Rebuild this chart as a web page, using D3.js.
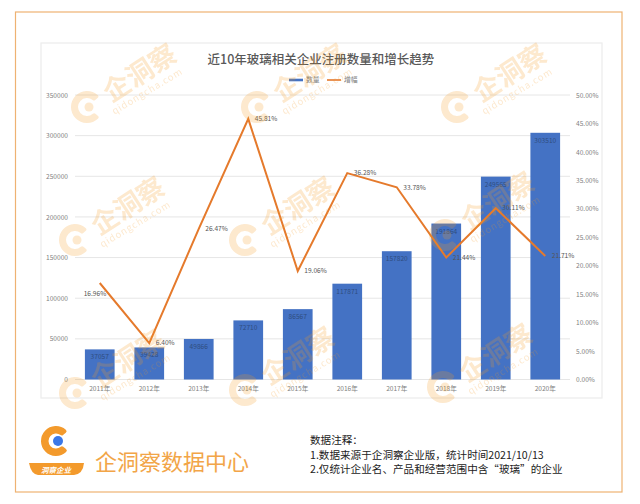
<!DOCTYPE html>
<html><head><meta charset="utf-8">
<script src="https://cdnjs.cloudflare.com/ajax/libs/d3/7.8.5/d3.min.js"></script>
<style>html,body{margin:0;padding:0;background:#fff}svg{display:block}text{font-family:"Noto Sans CJK SC","Noto Sans",sans-serif}</style>
</head><body><div id="c"></div>
<script>
const years=["2011年","2012年","2013年","2014年","2015年","2016年","2017年","2018年","2019年","2020年"];
const counts=[37057,39428,49866,72710,86567,117871,157820,191864,249565,303510];
const growth=[16.96,6.40,26.47,45.81,19.06,36.28,33.78,21.44,30.11,21.71];
const leftTicks=[0,50000,100000,150000,200000,250000,300000,350000];
const rightTicks=[0,5,10,15,20,25,30,35,40,45,50];
const title="近10年玻璃相关企业注册数量和增长趋势";
const seriesNames=["数量","增幅"];
const notes=["数据注释：","1.数据来源于企洞察企业版，统计时间2021/10/13","2.仅统计企业名、产品和经营范围中含“玻璃”的企业"];
const brand="企洞察数据中心";

const W=640,H=504;
const svg=d3.select("#c").append("svg").attr("width",W).attr("height",H);
svg.append("rect").attr("x",15.5).attr("y",12).attr("width",606.5).attr("height",480).attr("fill","#fff").attr("stroke","#eeb272").attr("stroke-width",1.2);
svg.append("rect").attr("x",41).attr("y",43).attr("width",561).attr("height",355).attr("fill","#fff").attr("stroke","#ececec").attr("stroke-width",1.2);

const x=d3.scaleBand().domain(years).range([75,570]).paddingInner(0.4).paddingOuter(0.2);
const yL=d3.scaleLinear().domain([0,350000]).range([379.5,95]);
const yR=d3.scaleLinear().domain([0,50]).range([379.5,95]);
const cx=d=>x(d)+x.bandwidth()/2;

const g=svg.append("g");
g.selectAll(".grid").data(leftTicks).join("line").attr("x1",75).attr("x2",570).attr("y1",d=>yL(d)).attr("y2",d=>yL(d)).attr("stroke","#e6e6e6").attr("stroke-width",1);
g.selectAll(".bar").data(years).join("rect").attr("x",d=>x(d)).attr("width",x.bandwidth()).attr("y",(d,i)=>yL(counts[i])).attr("height",(d,i)=>yL(0)-yL(counts[i])).attr("fill","#4472c4");

const axL=d3.axisLeft(yL).tickValues(leftTicks).tickSize(0).tickPadding(0).tickFormat(d3.format("d"));
const aL=svg.append("g").attr("transform","translate(68,0)").call(axL);
const axR=d3.axisRight(yR).tickValues(rightTicks).tickSize(0).tickPadding(0).tickFormat(d=>d.toFixed(2)+"%");
const aR=svg.append("g").attr("transform","translate(576,0)").call(axR);
const axB=d3.axisBottom(x).tickSize(0).tickPadding(0);
const aB=svg.append("g").attr("transform","translate(0,386.5)").call(axB);
[aL,aR,aB].forEach(a=>{a.select(".domain").remove();a.selectAll("text").attr("fill","#808080").attr("font-size",6.6);});

g.selectAll(".cnt").data(years).join("text").attr("x",cx).attr("y",(d,i)=>yL(counts[i])+10).attr("text-anchor","middle").attr("font-size",6.6).attr("fill","#2f4d80").text((d,i)=>counts[i]);

const line=d3.line().x((d,i)=>cx(years[i])).y(d=>yR(d));
svg.append("path").attr("d",line(growth)).attr("fill","none").attr("stroke","#e57a2c").attr("stroke-width",2).attr("stroke-linejoin","miter");
svg.selectAll(".pct").data(growth).join("text")
 .attr("x",(d,i)=>cx(years[i])+6.5).attr("y",(d,i)=>yR(d)+(i===0?11:0)+2.3)
 .attr("text-anchor",(d,i)=>i===0?"end":"start").attr("font-size",6.6).attr("fill","#555").text(d=>d.toFixed(2)+"%");

svg.append("text").attr("x",321).attr("y",64).attr("text-anchor","middle").attr("font-size",12.5).attr("font-weight",500).attr("fill","#595959").text(title);
const lg=svg.append("g");
lg.append("line").attr("x1",289).attr("x2",303).attr("y1",80).attr("y2",80).attr("stroke","#4472c4").attr("stroke-width",2.6);
lg.append("text").attr("x",306).attr("y",82.3).attr("font-size",6.8).attr("fill","#808080").text(seriesNames[0]);
lg.append("line").attr("x1",327).attr("x2",341).attr("y1",80).attr("y2",80).attr("stroke","#e57a2c").attr("stroke-width",1.6);
lg.append("text").attr("x",344).attr("y",82.3).attr("font-size",6.8).attr("fill","#808080").text(seriesNames[1]);

// watermarks
const wmPos=[[87,107],[257,107],[457,107],[75,240],[245,240],[445,235],[75,393],[245,390],[443,387]];
const cArc=d3.arc().innerRadius(9).outerRadius(16).startAngle(2.25).endAngle(7.15).cornerRadius(2);
const wm=svg.append("g").attr("opacity",.22).style("pointer-events","none");
wmPos.forEach(([a,b])=>{
 const t=wm.append("g").attr("transform",`translate(${a},${b})`);
 t.append("path").attr("d",cArc()).attr("fill","#f59a23");
 t.append("circle").attr("cx",2).attr("cy",0).attr("r",4.5).attr("fill","#f59a23");
 t.append("text").attr("transform","translate(58,-26) rotate(-33)").attr("text-anchor","middle").attr("font-size",27).attr("font-weight",700).attr("fill","#f59a23").text("企洞察");
 t.append("text").attr("transform","translate(62,-13) rotate(-31)").attr("text-anchor","middle").attr("font-size",9.5).attr("letter-spacing",.9).attr("fill","#f59a23").text("qidongcha.com");
});

// brand logo
const lo=svg.append("g").attr("transform","translate(56,441)");
lo.append("path").attr("d",d3.arc().innerRadius(7.5).outerRadius(15).startAngle(2.25).endAngle(7.15).cornerRadius(2)()).attr("fill","#f39a2c");
lo.append("circle").attr("cx",2).attr("cy",0).attr("r",5).attr("fill","#3b78e7");
lo.append("path").attr("d","M-27,22 L28,22 Q27,33 18,34 L-18,34 Q-25,33 -27,22Z").attr("fill","#f39a2c");
lo.append("text").attr("x",0).attr("y",31.5).attr("text-anchor","middle").attr("font-size",7.5).attr("font-weight",700).attr("font-style","italic").attr("fill","#fff").text("洞察企业");
svg.append("text").attr("x",95).attr("y",470).attr("font-size",22).attr("fill","#f2a548").text(brand);
svg.selectAll(".note").data(notes).join("text").attr("x",310).attr("y",(d,i)=>444+i*14.7).attr("font-size",10.6).attr("fill","#222").text(d=>d);
</script></body></html>
